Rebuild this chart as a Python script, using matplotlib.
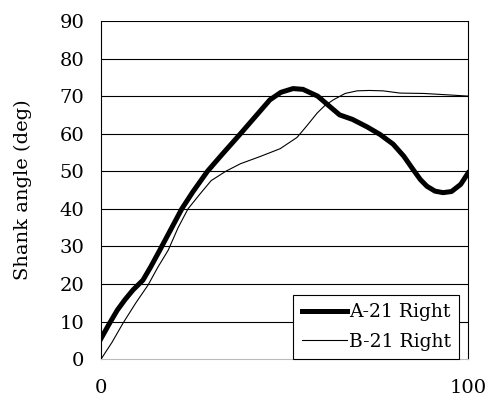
import matplotlib
matplotlib.use("Agg")
import matplotlib.pyplot as plt

# Shank angle traces (percent of cycle vs deg)
a_x = [0, 2, 4.4, 6.5, 8.7, 11.4, 13.5, 16, 19, 22, 25, 29, 33, 38, 42, 46, 49,
       52.3, 55, 59, 62, 65, 68.5, 72.5, 76, 79.6, 82.5, 85, 87, 88.8, 91,
       93.2, 95.5, 98, 100]
a_y = [5.5, 9, 13, 15.8, 18.4, 21, 24.5, 29, 34.5, 40, 44.5, 50, 54.5, 60, 64.5,
       69, 71, 72, 71.8, 70, 67.5, 65, 63.8, 61.8, 59.8, 57.2, 54, 50.5, 47.8,
       46, 44.7, 44.3, 44.6, 46.5, 49.5]

b_x = [0, 3, 6, 9.5, 12.8, 15.5, 18.3, 21, 23.7, 27, 30, 34, 38, 43.3, 48.8,
       53.4, 56, 58.9, 61, 63.3, 66.5, 69.8, 73, 76.8, 81.5, 88, 95, 100]
b_y = [0, 4.5, 9.6, 15, 19.7, 24.5, 29, 35, 40, 44, 47.5, 50, 52, 53.9, 56,
       59, 62, 65.5, 67.5, 69, 70.7, 71.4, 71.5, 71.4, 70.8, 70.7, 70.3, 70]

y_ticks = list(range(0, 91, 10))
x_ticks = [0, 100]

plt.rcParams['font.family'] = ['DejaVu Serif']

fig = plt.figure(figsize=(4.86, 4.03), dpi=100)
ax = fig.add_axes([0.208, 0.109, 0.755, 0.839])

for yv in y_ticks[1:]:
    ax.axhline(yv, color='black', linewidth=0.8, zorder=1)

ax.plot(a_x, a_y, color='black', linewidth=3.6, label='A-21 Right', zorder=3)
ax.plot(b_x, b_y, color='black', linewidth=0.8, label='B-21 Right', zorder=3)

ax.set_xlim(0, 100)
ax.set_ylim(0, 90)
ax.set_yticks(y_ticks)
ax.set_xticks(x_ticks)
ax.tick_params(axis='both', length=0, labelsize=14)
ax.tick_params(axis='x', pad=14)
ax.tick_params(axis='y', pad=12)

ax.spines['top'].set_visible(False)
ax.spines['left'].set_linewidth(0.8)
ax.spines['right'].set_linewidth(0.8)
ax.spines['bottom'].set_color('#bbbbbb')
ax.spines['bottom'].set_linewidth(0.8)

ax.set_ylabel('Shank angle (deg)', fontsize=14, labelpad=20)

leg = ax.legend(loc='lower right', fontsize=13.5, frameon=True, fancybox=False,
                handlelength=2.4, handletextpad=0.1, borderpad=0.45,
                labelspacing=0.6, borderaxespad=0.0,
                bbox_to_anchor=(0.976, 0.0))
leg.get_frame().set_edgecolor('black')
leg.get_frame().set_linewidth(0.8)
leg.get_frame().set_alpha(1)

fig.savefig('out.png', dpi=100)
